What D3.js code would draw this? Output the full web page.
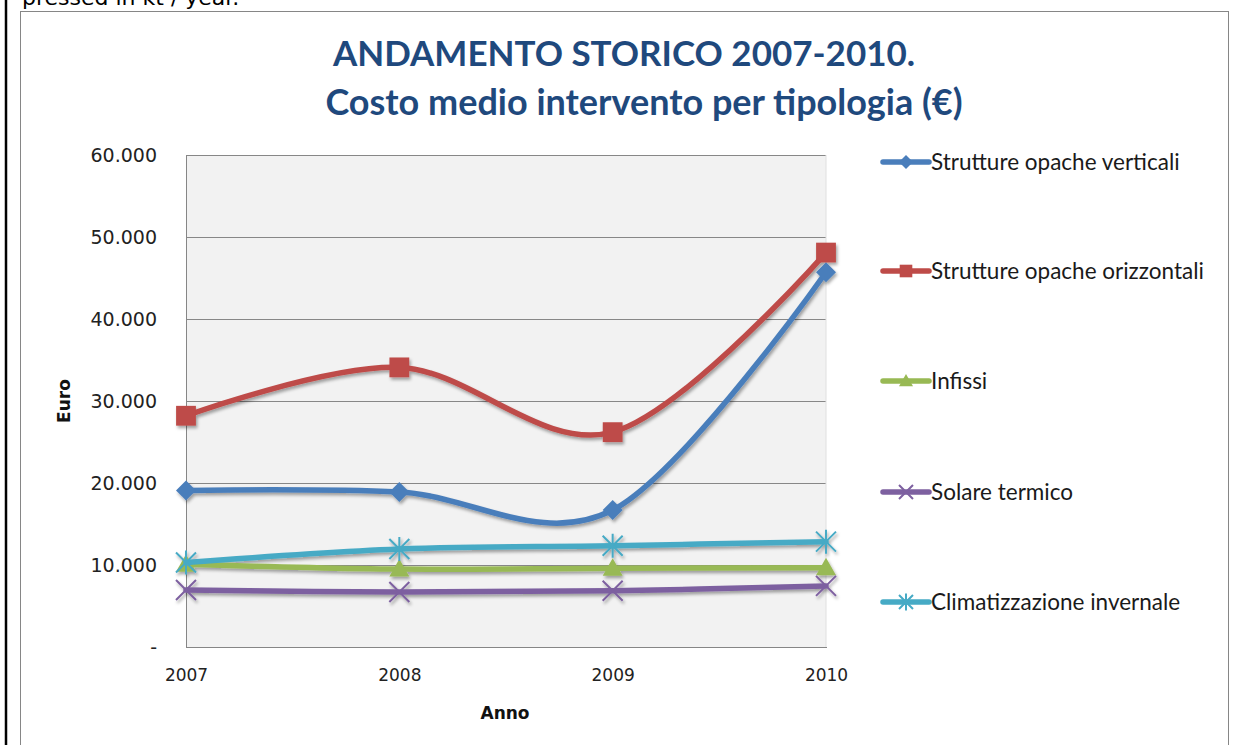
<!DOCTYPE html>
<html>
<head>
<meta charset="utf-8">
<script src="https://cdn.jsdelivr.net/npm/d3@7"></script>
<style>
  html, body { margin: 0; padding: 0; background: #fff; overflow: hidden; }
  svg { display: block; }
</style>
</head>
<body>
<svg id="chart" width="1242" height="745"></svg>
<script>
// values (euro)
const years = ["2007", "2008", "2009", "2010"];
const verticali = [19100, 18900, 16700, 45700];
const orizzontali = [28200, 34100, 26200, 48100];
const infissi = [10100, 9500, 9600, 9650];
const solare = [6950, 6700, 6850, 7450];
const climatizzazione = [10300, 11950, 12350, 12850];
const yTicks = [0, 10000, 20000, 30000, 40000, 50000, 60000];

const seriesNames = [
  "Strutture opache verticali",
  "Strutture opache orizzontali",
  "Infissi",
  "Solare termico",
  "Climatizzazione invernale"
];
const seriesValues = [verticali, orizzontali, infissi, solare, climatizzazione];
const seriesColors = ["#4A7EBB", "#BE4B48", "#98B954", "#7D60A0", "#46AAC5"];
const seriesMarkers = ["diamond", "square", "triangle", "x", "star"];

const svg = d3.select("#chart");

const plot = { left: 186, right: 826, top: 155, bottom: 647 };

const x = d3.scalePoint().domain(years).range([plot.left, plot.right]);
const y = d3.scaleLinear().domain([0, 60000]).range([plot.bottom, plot.top]);

const it = d3.formatLocale({ decimal: ",", thousands: ".", grouping: [3], currency: ["", " €"] });
const fmt = it.format(",");

// drop shadow like the office chart
const defs = svg.append("defs");
const shadow = defs.append("filter").attr("id", "shadow")
  .attr("x", "-10%").attr("y", "-10%").attr("width", "120%").attr("height", "130%");
shadow.append("feDropShadow")
  .attr("dx", 1.5).attr("dy", 2.5).attr("stdDeviation", 1.5)
  .attr("flood-color", "#000").attr("flood-opacity", 0.35);

// page bits around the chart
svg.append("line")
  .attr("x1", 6).attr("x2", 6).attr("y1", 0).attr("y2", 745)
  .attr("stroke", "#000").attr("stroke-width", 2.5);
svg.append("text")
  .attr("x", 22).attr("y", 5)
  .attr("font-family", "DejaVu Sans, Verdana, sans-serif")
  .attr("font-size", 22).attr("fill", "#000")
  .text("pressed in kt / year.");

// chart frame
svg.append("rect")
  .attr("x", 20.5).attr("y", 11.5).attr("width", 1208).attr("height", 760)
  .attr("fill", "#fff").attr("stroke", "#868686").attr("stroke-width", 1);

// title
const title = svg.append("text")
  .attr("text-anchor", "middle")
  .attr("font-family", "Lato, 'Open Sans', sans-serif")
  .attr("font-weight", "bold").attr("fill", "#1F497D");
title.append("tspan").attr("x", 624).attr("y", 66).attr("font-size", 35)
  .text("ANDAMENTO STORICO 2007-2010.");
title.append("tspan").attr("x", 644).attr("y", 115).attr("font-size", 36)
  .text("Costo medio intervento per tipologia (€)");

// plot area
svg.append("rect")
  .attr("x", plot.left).attr("y", plot.top)
  .attr("width", plot.right - plot.left).attr("height", plot.bottom - plot.top)
  .attr("fill", "#F2F2F2");

const yAxis = d3.axisLeft(y).tickValues(yTicks)
  .tickSize(-(plot.right - plot.left)).tickPadding(29)
  .tickFormat(d => d === 0 ? "-" : fmt(d));
const gy = svg.append("g").attr("transform", `translate(${plot.left},0)`).call(yAxis);
gy.select(".domain").attr("stroke", "#868686");
gy.selectAll(".tick line").attr("stroke", "#878787").attr("shape-rendering", "crispEdges");
gy.selectAll(".tick text")
  .attr("font-family", "DejaVu Sans, Verdana, sans-serif")
  .attr("font-size", 19).attr("fill", "#222");

const xAxis = d3.axisBottom(x).tickSize(0).tickPadding(22);
const gx = svg.append("g").attr("transform", `translate(0,${plot.bottom})`).call(xAxis);
gx.select(".domain").attr("stroke", "#868686").attr("shape-rendering", "crispEdges");
gx.selectAll(".tick text")
  .attr("font-family", "DejaVu Sans, Verdana, sans-serif")
  .attr("font-size", 17).attr("fill", "#222");

svg.append("line")
  .attr("x1", plot.right).attr("x2", plot.right).attr("y1", plot.top).attr("y2", plot.bottom)
  .attr("stroke", "#E0E0E0");

// axis titles
svg.append("text")
  .attr("x", 505).attr("y", 719).attr("text-anchor", "middle")
  .attr("font-family", "DejaVu Sans, Verdana, sans-serif")
  .attr("font-weight", "bold").attr("font-size", 17).attr("fill", "#111")
  .text("Anno");
svg.append("text")
  .attr("transform", "translate(70,401) rotate(-90)").attr("text-anchor", "middle")
  .attr("font-family", "DejaVu Sans, Verdana, sans-serif")
  .attr("font-weight", "bold").attr("font-size", 17).attr("fill", "#111")
  .text("Euro");

// marker drawing
function marker(g, type, color, s) {
  if (type === "diamond") {
    g.append("path").attr("d", `M0,${-s}L${s},0L0,${s}L${-s},0Z`).attr("fill", color);
  } else if (type === "square") {
    g.append("rect").attr("x", -s * 0.9).attr("y", -s * 0.9)
      .attr("width", s * 1.8).attr("height", s * 1.8).attr("fill", color);
  } else if (type === "triangle") {
    g.append("path").attr("d", `M0,${-s}L${s},${s * 0.75}L${-s},${s * 0.75}Z`).attr("fill", color);
  } else if (type === "x") {
    g.append("path").attr("d", `M${-s},${-s}L${s},${s}M${s},${-s}L${-s},${s}`)
      .attr("stroke", color).attr("stroke-width", 2);
  } else if (type === "star") {
    g.append("path")
      .attr("d", `M${-s},${-s}L${s},${s}M${s},${-s}L${-s},${s}M0,${-s * 1.2}L0,${s * 1.2}`)
      .attr("stroke", color).attr("stroke-width", 2);
  }
}

const line = d3.line()
  .x((d, i) => x(years[i]))
  .y(d => y(d))
  .curve(d3.curveCardinal.tension(0));

const gs = svg.append("g").attr("filter", "url(#shadow)");
seriesValues.forEach((vals, k) => {
  const g = gs.append("g");
  g.append("path").datum(vals)
    .attr("d", line)
    .attr("fill", "none")
    .attr("stroke", seriesColors[k])
    .attr("stroke-width", 5.5)
    .attr("stroke-linejoin", "round").attr("stroke-linecap", "round");
  vals.forEach((v, i) => {
    const m = g.append("g").attr("transform", `translate(${x(years[i])},${y(v)})`);
    marker(m, seriesMarkers[k], seriesColors[k], k === 1 ? 11 : 10);
  });
});

// legend
const legendY = [162, 271, 381, 492, 602];
seriesNames.forEach((name, k) => {
  const g = svg.append("g").attr("transform", `translate(881,${legendY[k]})`);
  g.append("line").attr("x1", 2).attr("x2", 48)
    .attr("stroke", seriesColors[k]).attr("stroke-width", 5.5).attr("stroke-linecap", "round");
  const m = g.append("g").attr("transform", "translate(25,0)");
  marker(m, seriesMarkers[k], seriesColors[k], 7);
  g.append("text").attr("x", 50).attr("y", 8)
    .attr("font-family", "Lato, 'Open Sans', sans-serif")
    .attr("font-size", 22.5).attr("fill", "#1a1a1a")
    .text(name);
});
</script>
</body>
</html>
